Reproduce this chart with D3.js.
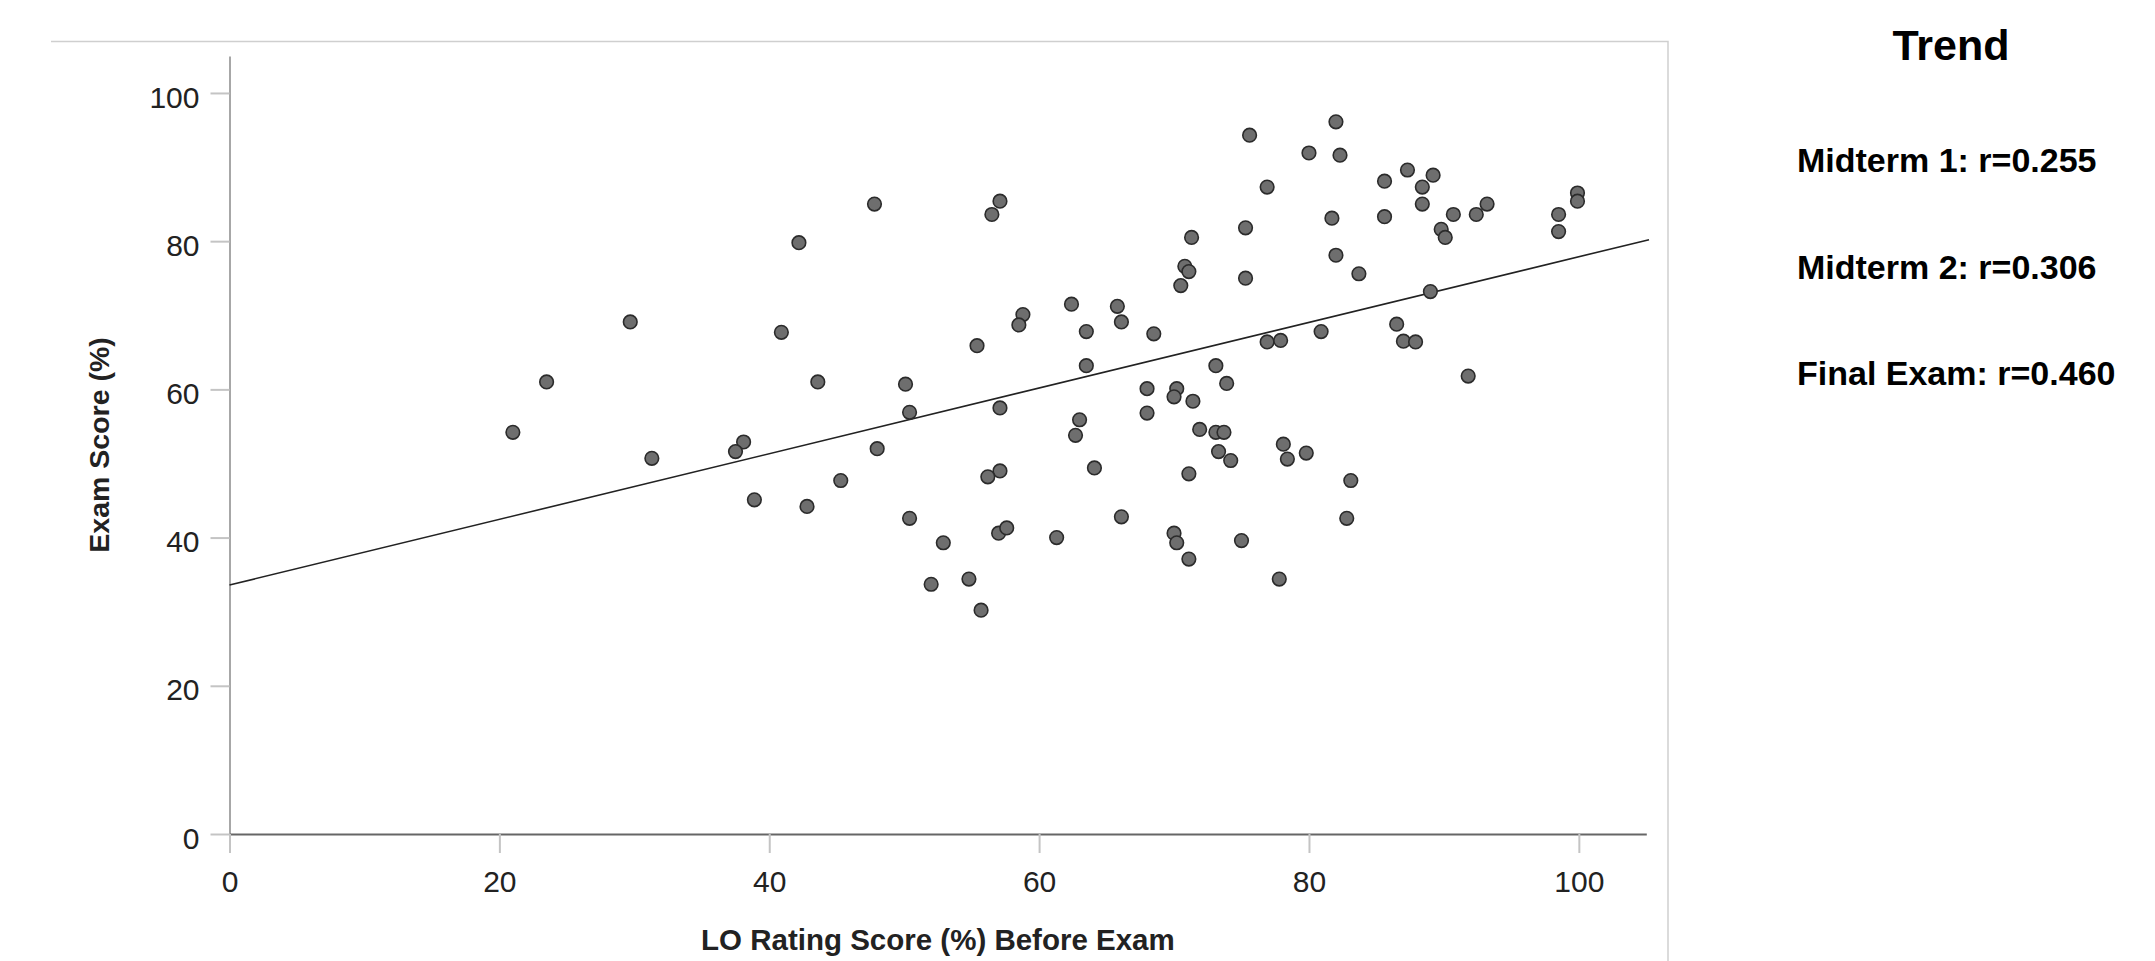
<!doctype html>
<html>
    <head>
        <title>LO Rating vs Exam Score</title>
        <style>
            body {
                margin: 0;
                overflow: hidden;
                background: #fff;
            }
        </style>
    </head>
    <body>
        <script src="https://cdn.jsdelivr.net/npm/d3@7"></script>
        <script>

            // LO rating score (%) before exam, per student
            const loRating = [
                47.8, 42.2, 29.7, 40.9, 23.5, 43.6, 21.0, 38.1, 37.5, 31.3, 48.0, 45.3, 38.9, 42.8,
                57.1, 56.5, 75.6, 76.9, 75.3, 71.3, 70.8, 71.1, 75.3, 70.5, 62.4, 65.8, 58.8, 58.5,
                66.1, 63.5, 68.5, 55.4, 76.9, 77.9, 63.5, 73.1, 50.1, 73.9, 68.0, 70.2, 70.0, 71.4,
                50.4, 57.1, 68.0, 63.0, 62.7, 71.9, 73.1, 73.7, 73.3, 74.2, 57.1, 56.2, 64.1, 71.1,
                50.4, 66.1, 52.9, 57.0, 57.6, 61.3, 70.0, 70.2, 71.1, 75.0, 52.0, 54.8, 55.7,
                82.0, 80.0, 82.3, 85.6, 87.3, 89.2, 88.4, 88.4, 99.9, 99.9, 81.7, 85.6, 90.7, 92.4,
                93.2, 98.5, 98.5, 89.8, 90.1, 82.0, 83.7, 89.0, 86.5, 80.9, 87.0, 87.9, 91.8, 78.1,
                78.4, 79.8, 83.1, 82.8, 77.8
            ];

            // exam score (%), same order
            const examScore = [
                85.0, 79.8, 69.1, 67.7, 61.0, 61.0, 54.2, 52.9, 51.6, 50.7, 52.0, 47.7, 45.1, 44.2,
                85.4, 83.6, 94.3, 87.3, 81.8, 80.5, 76.6, 75.9, 75.0, 74.0, 71.5, 71.2, 70.1, 68.7,
                69.1, 67.8, 67.5, 65.9, 66.4, 66.6, 63.2, 63.2, 60.7, 60.8, 60.1, 60.1, 59.0, 58.4,
                56.9, 57.5, 56.8, 55.9, 53.8, 54.6, 54.2, 54.2, 51.6, 50.4, 49.0, 48.2, 49.4, 48.6,
                42.6, 42.8, 39.3, 40.6, 41.3, 40.0, 40.6, 39.3, 37.1, 39.6, 33.7, 34.4, 30.2,
                96.1, 91.9, 91.6, 88.1, 89.6, 88.9, 87.3, 85.0, 86.5, 85.4, 83.1, 83.3, 83.6, 83.6,
                85.0, 83.6, 81.3, 81.6, 80.5, 78.1, 75.6, 73.2, 68.8, 67.8, 66.5, 66.4, 61.8, 52.6,
                50.6, 51.4, 47.7, 42.6, 34.4
            ];

            // fitted line
            const trendIntercept = 33.6;
            const trendSlope = 0.443;

            const axisTicks = [0, 20, 40, 60, 80, 100];
            const trendTitle = 'Trend';
            const trendLabels = ['Midterm 1: r=0.255', 'Midterm 2: r=0.306', 'Final Exam: r=0.460'];

            const width = 2155;
            const height = 961;

            const svg = d3.select('body')
                .append('svg')
                .attr('width', width)
                .attr('height', height);

            const x = d3.scaleLinear().domain([0, 105]).range([229.5, 1646.3]);
            const y = d3.scaleLinear().domain([0, 105]).range([834, 55.9]);

            // panel border (top + right only)
            svg.append('path')
                .attr('d', 'M51,41.5H1668V961')
                .attr('fill', 'none')
                .attr('stroke', '#cfcfcf')
                .attr('stroke-width', 1.5);

            const tickFont = '"Liberation Sans", Arial, sans-serif';

            // y axis
            const yAxis = svg.append('g')
                .attr('transform', `translate(${x(0)},0)`)
                .call(d3.axisLeft(y).tickValues(axisTicks).tickSize(19).tickPadding(11).tickSizeOuter(0));
            yAxis.select('.domain').attr('stroke', '#8a8a8a').attr('stroke-width', 1.5);
            yAxis.selectAll('.tick line').attr('stroke', '#c4c4c4').attr('stroke-width', 2);
            yAxis.selectAll('.tick text')
                .attr('dy', '0.47em')
                .attr('fill', '#222')
                .style('font-family', tickFont)
                .style('font-size', '30px');

            // x axis
            const xAxis = svg.append('g')
                .attr('transform', `translate(0,${y(0)})`)
                .call(d3.axisBottom(x).tickValues(axisTicks).tickSize(19).tickPadding(18).tickSizeOuter(0));
            xAxis.select('.domain').attr('stroke', '#666').attr('stroke-width', 2);
            xAxis.selectAll('.tick line').attr('stroke', '#c4c4c4').attr('stroke-width', 2);
            xAxis.selectAll('.tick text')
                .attr('fill', '#222')
                .style('font-family', tickFont)
                .style('font-size', '30px');

            // axis titles
            svg.append('text')
                .attr('x', (x.range()[0] + x.range()[1]) / 2)
                .attr('y', 950)
                .attr('text-anchor', 'middle')
                .attr('fill', '#222')
                .style('font-family', tickFont)
                .style('font-weight', 'bold')
                .style('font-size', '29.5px')
                .text('LO Rating Score (%) Before Exam');

            svg.append('text')
                .attr('transform', `translate(109,${(y(0) + y(105)) / 2}) rotate(-90)`)
                .attr('text-anchor', 'middle')
                .attr('fill', '#222')
                .style('font-family', tickFont)
                .style('font-weight', 'bold')
                .style('font-size', '28.5px')
                .text('Exam Score (%)');

            // trend line
            const xEnd = 105.2;
            svg.append('line')
                .attr('x1', x(0))
                .attr('y1', y(trendIntercept))
                .attr('x2', x(xEnd))
                .attr('y2', y(trendIntercept + trendSlope * xEnd))
                .attr('stroke', '#222')
                .attr('stroke-width', 1.6);

            // points
            const points = d3.zip(loRating, examScore);
            svg.append('g')
                .selectAll('circle')
                .data(points)
                .join('circle')
                .attr('cx', (d) => x(d[0]))
                .attr('cy', (d) => y(d[1]))
                .attr('r', 6.8)
                .attr('fill', '#6e6e6e')
                .attr('stroke', '#2b2b2b')
                .attr('stroke-width', 1.6);

            // right-hand summary
            const side = svg.append('g').style('font-family', 'Helvetica, Arial, "Liberation Sans", sans-serif')
                .style('font-weight', 'bold')
                .attr('fill', '#000');

            side.append('text')
                .attr('x', 1951)
                .attr('y', 60)
                .attr('text-anchor', 'middle')
                .style('font-size', '43px')
                .text(trendTitle);

            side.selectAll('.r')
                .data(trendLabels)
                .join('text')
                .attr('class', 'r')
                .attr('x', 1797)
                .attr('y', (d, i) => 172 + i * 106.7)
                .style('font-size', '34px')
                .text((d) => d);

        </script>
    </body>
</html>
